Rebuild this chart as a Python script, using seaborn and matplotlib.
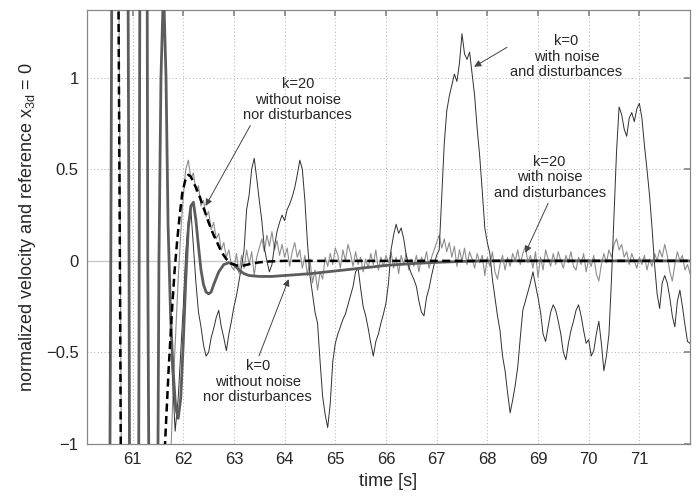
import numpy as np
import pandas as pd
import matplotlib
matplotlib.use("Agg")
import matplotlib.pyplot as plt
import seaborn as sns

# ---- data ----
# k=0 without noise nor disturbances (thick grey)
t_k0_clean = [60.10, 60.35, 60.57, 60.75, 60.93, 61.03, 61.13, 61.22, 61.30, 61.41,
              61.52, 61.56, 61.61, 61.66, 61.70, 61.75, 61.80, 61.85, 61.90, 61.95,
              62.00, 62.05, 62.10, 62.15, 62.20, 62.25, 62.30, 62.35, 62.40, 62.45,
              62.50, 62.55, 62.60, 62.70, 62.80, 62.90, 63.00, 63.10, 63.20, 63.30,
              63.50, 63.75, 64.00, 64.50, 65.00, 65.50, 66.00, 66.50, 67.00, 67.50,
              68.00, 72.00]
v_k0_clean = [-8, -14, 0, 14, 0, -12, 0, 10, 0, -6,
              0, 1.0, 1.5, 1.0, 0.2, -0.3, -0.6, -0.8, -0.86, -0.75,
              -0.45, -0.10, 0.18, 0.30, 0.32, 0.22, 0.08, -0.05, -0.13, -0.17,
              -0.18, -0.17, -0.13, -0.06, -0.02, -0.01, -0.02, -0.05, -0.07, -0.08,
              -0.085, -0.085, -0.08, -0.07, -0.055, -0.04, -0.025, -0.015, -0.008, -0.003,
              0.0, 0.0]

# k=20 without noise nor disturbances (black dashed)
t_k20_clean = [60.10, 60.45, 60.75, 61.00, 61.30, 61.64, 61.71, 61.78, 61.83, 61.88,
               61.93, 61.98, 62.04, 62.10, 62.15, 62.20, 62.30, 62.40, 62.50, 62.60,
               62.67, 62.75, 62.85, 62.95, 63.05, 63.20, 63.35, 63.50, 63.70, 64.00,
               72.00]
v_k20_clean = [10, 15, 0, -15, -15, -1.0, -0.6, -0.26, -0.05, 0.11,
               0.25, 0.37, 0.44, 0.47, 0.46, 0.43, 0.37, 0.29, 0.21, 0.14,
               0.10, 0.05, 0.01, -0.015, -0.025, -0.025, -0.015, -0.008, -0.003, 0.0,
               0.0]

# k=0 with noise and disturbances (thin black), start-up part
t_k0_noise_start = [60.10, 60.35, 60.57, 60.75, 60.93, 61.03, 61.13, 61.22, 61.30, 61.41,
                    61.52, 61.56, 61.61, 61.66, 61.70, 61.78, 61.84, 61.90, 61.95]
v_k0_noise_start = [-8, -14, 0, 14, 0, -12, 0, 10, 0, -6,
                    0, 1.0, 1.5, 1.0, 0.2, -0.6, -0.93, -0.75, -0.5]
# sampled every 0.05 s from 62.00 to 72.00
v_k0_noise = [
    -0.25, 0.05, 0.22, 0.28, 0.08, -0.12, -0.28, -0.36, -0.46, -0.52,
    -0.50, -0.42, -0.37, -0.31, -0.27, -0.36, -0.42, -0.49, -0.40, -0.33,
    -0.25, -0.19, -0.11, -0.03, 0.06, 0.28, 0.36, 0.50, 0.56, 0.45,
    0.33, 0.22, 0.07, 0.00, -0.06, -0.02, 0.08, 0.16, 0.21, 0.25,
    0.22, 0.28, 0.31, 0.35, 0.40, 0.47, 0.55, 0.50, 0.33, 0.10,
    -0.08, -0.18, -0.28, -0.34, -0.55, -0.74, -0.84, -0.91, -0.78, -0.55,
    -0.45, -0.40, -0.36, -0.32, -0.29, -0.24, -0.19, -0.14, -0.06, -0.04,
    -0.15, -0.25, -0.30, -0.37, -0.45, -0.52, -0.44, -0.40, -0.34, -0.29,
    -0.23, -0.12, 0.06, 0.14, 0.20, 0.15, 0.18, 0.12, 0.03, -0.03,
    -0.07, -0.10, -0.14, -0.22, -0.28, -0.30, -0.20, -0.15, -0.08, -0.02,
    0.03, 0.06, 0.35, 0.64, 0.82, 0.90, 0.96, 1.02, 0.98, 1.08,
    1.24, 1.13, 1.10, 1.14, 1.02, 0.90, 0.72, 0.57, 0.38, 0.18,
    0.10, 0.04, -0.10, -0.20, -0.30, -0.38, -0.52, -0.60, -0.72, -0.83,
    -0.76, -0.68, -0.58, -0.42, -0.27, -0.22, -0.17, -0.12, -0.06, -0.13,
    -0.20, -0.28, -0.40, -0.44, -0.36, -0.28, -0.24, -0.27, -0.33, -0.40,
    -0.50, -0.54, -0.45, -0.38, -0.33, -0.27, -0.24, -0.30, -0.38, -0.45,
    -0.43, -0.52, -0.49, -0.40, -0.33, -0.45, -0.60, -0.52, -0.40, -0.10,
    0.25, 0.60, 0.84, 0.80, 0.72, 0.68, 0.78, 0.81, 0.76, 0.83,
    0.86, 0.78, 0.63, 0.50, 0.36, 0.18, -0.02, -0.18, -0.26, -0.12,
    -0.08, -0.12, -0.20, -0.30, -0.36, -0.22, -0.16, -0.25, -0.35, -0.44,
    -0.45,
]

# k=20 with noise and disturbances (thin grey), start-up part
t_k20_noise_start = [60.10, 60.45, 60.76, 61.00, 61.30, 61.62, 61.70, 61.80, 61.90, 61.95]
v_k20_noise_start = [10, 15, 0, -15, -15, -3, -1.5, -0.7, -0.1, 0.15]
# sampled every 0.05 s from 62.00 to 72.00
v_k20_noise = [
    0.35, 0.50, 0.55, 0.45, 0.48, 0.38, 0.41, 0.30, 0.33, 0.24,
    0.27, 0.17, 0.21, 0.12, 0.15, 0.06, 0.10, 0.02, 0.06, -0.03,
    -0.05, 0.04, -0.07, 0.03, -0.04, 0.06, -0.02, 0.05, -0.08, 0.02,
    0.07, 0.12, 0.05, 0.14, 0.08, 0.16, 0.06, 0.11, 0.03, 0.09,
    0.02, 0.07, -0.03, 0.05, 0.10, 0.02, 0.06, -0.04, 0.03, -0.08,
    0.01, -0.12, -0.05, -0.16, -0.06, -0.10, 0.02, -0.03, 0.04, -0.02,
    0.07, 0.03, -0.04, 0.06, 0.00, 0.09, 0.04, -0.03, 0.05, -0.02,
    0.02, -0.06, 0.01, -0.04, 0.04, -0.02, 0.06, -0.05, 0.02, -0.03,
    0.03, -0.01, 0.05, -0.04, 0.02, -0.07, 0.03, -0.02, 0.04, -0.05,
    0.01, -0.03, 0.03, -0.06, 0.02, -0.01, 0.05, -0.04, 0.02, 0.06,
    0.10, 0.14, 0.07, 0.12, 0.05, 0.10, 0.02, 0.08, -0.03, 0.06,
    0.00, 0.07, -0.02, 0.05, 0.01, -0.04, 0.04, -0.01, 0.03, -0.08,
    0.02, -0.03, 0.05, -0.06, -0.10, -0.02, 0.03, -0.05, 0.02, -0.03,
    0.04, 0.00, 0.06, -0.02, 0.04, 0.08, -0.01, 0.03, -0.04, 0.05,
    -0.09, 0.02, -0.05, 0.06, 0.01, -0.03, 0.04, -0.02, 0.05, 0.00,
    -0.04, 0.03, -0.01, 0.05, -0.03, -0.05, 0.02, -0.02, 0.04, -0.06,
    0.01, -0.03, 0.03, -0.07, -0.11, -0.02, 0.04, -0.01, 0.06, 0.02,
    0.09, 0.12, 0.06, 0.09, 0.02, 0.05, -0.02, 0.04, 0.00, -0.04,
    0.02, -0.02, 0.03, -0.05, 0.01, -0.03, 0.04, 0.00, 0.06, 0.02,
    0.09, 0.03, -0.06, -0.11, -0.02, 0.05, 0.00, 0.03, -0.05, -0.02,
    -0.07,
]

x_ticks = [61, 62, 63, 64, 65, 66, 67, 68, 69, 70, 71]
y_ticks = [-1, -0.5, 0, 0.5, 1]
y_tick_labels = ["\u22121", "\u22120.5", "0", "0.5", "1"]

# ---- build tables ----
t_grid_k0 = np.round(62.0 + 0.05 * np.arange(len(v_k0_noise)), 2)
t_grid_k20 = np.round(62.0 + 0.05 * np.arange(len(v_k20_noise)), 2)

df_k0_clean = pd.DataFrame({"t": t_k0_clean, "v": v_k0_clean})
df_k20_clean = pd.DataFrame({"t": t_k20_clean, "v": v_k20_clean})
df_k0_noise = pd.DataFrame({"t": list(t_k0_noise_start) + list(t_grid_k0),
                            "v": list(v_k0_noise_start) + list(v_k0_noise)})
df_k20_noise = pd.DataFrame({"t": list(t_k20_noise_start) + list(t_grid_k20),
                             "v": list(v_k20_noise_start) + list(v_k20_noise)})

# ---- plot ----
sns.set_theme(style="white")
plt.rcParams["font.family"] = ["Liberation Sans", "DejaVu Sans"]
plt.rcParams["mathtext.fontset"] = "custom"
plt.rcParams["mathtext.rm"] = "Liberation Sans"
plt.rcParams["mathtext.it"] = "Liberation Sans"

fig = plt.figure(figsize=(6.98, 4.98), dpi=100)
ax = fig.add_axes([0.1246, 0.1084, 0.864, 0.8716])

ax.axhline(0, color="#c8c8c8", lw=1.0, zorder=1)

sns.lineplot(data=df_k20_noise, x="t", y="v", ax=ax, color="#8e8e8e",
             lw=0.8, sort=False, estimator=None, zorder=2)
sns.lineplot(data=df_k0_noise, x="t", y="v", ax=ax, color="#303030",
             lw=0.7, sort=False, estimator=None, zorder=3)
sns.lineplot(data=df_k0_clean, x="t", y="v", ax=ax, color="#5c5c5c",
             lw=2.0, sort=False, estimator=None, zorder=4)
sns.lineplot(data=df_k20_clean, x="t", y="v", ax=ax, color="black",
             lw=1.8, sort=False, estimator=None, zorder=5,
             linestyle=(0, (3.2, 1.8)))

ax.set_xlim(60.1, 72.0)
ax.set_ylim(-1, 1.37)
ax.set_xticks(x_ticks)
ax.set_yticks(y_ticks)
ax.set_yticklabels(y_tick_labels)
ax.grid(True, color="#b0b0b0", linestyle=(0, (1, 2.5)), lw=0.7)
ax.tick_params(direction="in", length=4, top=True, right=True, labelsize=12,
               color="#888888", pad=6)
for s in ax.spines.values():
    s.set_color("#888888")
    s.set_linewidth(0.9)

ax.set_xlabel("time [s]", fontsize=13, labelpad=4)
ax.set_ylabel("normalized velocity and reference x$_{3d}$ = 0", fontsize=13,
              labelpad=6)

arrow = dict(arrowstyle="-|>", color="#444444", lw=0.7,
             mutation_scale=10, shrinkA=0, shrinkB=0)
fs = 10.5
ax.annotate("k=20\nwithout noise\nnor disturbances", xy=(62.44, 0.30),
            xytext=(64.26, 0.88), ha="center", va="center", fontsize=fs,
            linespacing=1.15, arrowprops=dict(arrow, relpos=(0.08, 0.0)))
ax.annotate("k=0\nwithout noise\nnor disturbances", xy=(64.08, -0.10),
            xytext=(63.47, -0.66), ha="center", va="center", fontsize=fs,
            linespacing=1.15, arrowprops=dict(arrow, relpos=(0.5, 1.0)))
ax.annotate("k=0\nwith noise\nand disturbances", xy=(67.74, 1.06),
            xytext=(69.56, 1.115), ha="center", va="center", fontsize=fs,
            linespacing=1.15, arrowprops=dict(arrow, relpos=(0.0, 0.75)))
ax.annotate("k=20\nwith noise\nand disturbances", xy=(68.75, 0.044),
            xytext=(69.23, 0.456), ha="center", va="center", fontsize=fs,
            linespacing=1.15, arrowprops=dict(arrow, relpos=(0.5, 0.0)))

fig.savefig("out.png", dpi=100)
